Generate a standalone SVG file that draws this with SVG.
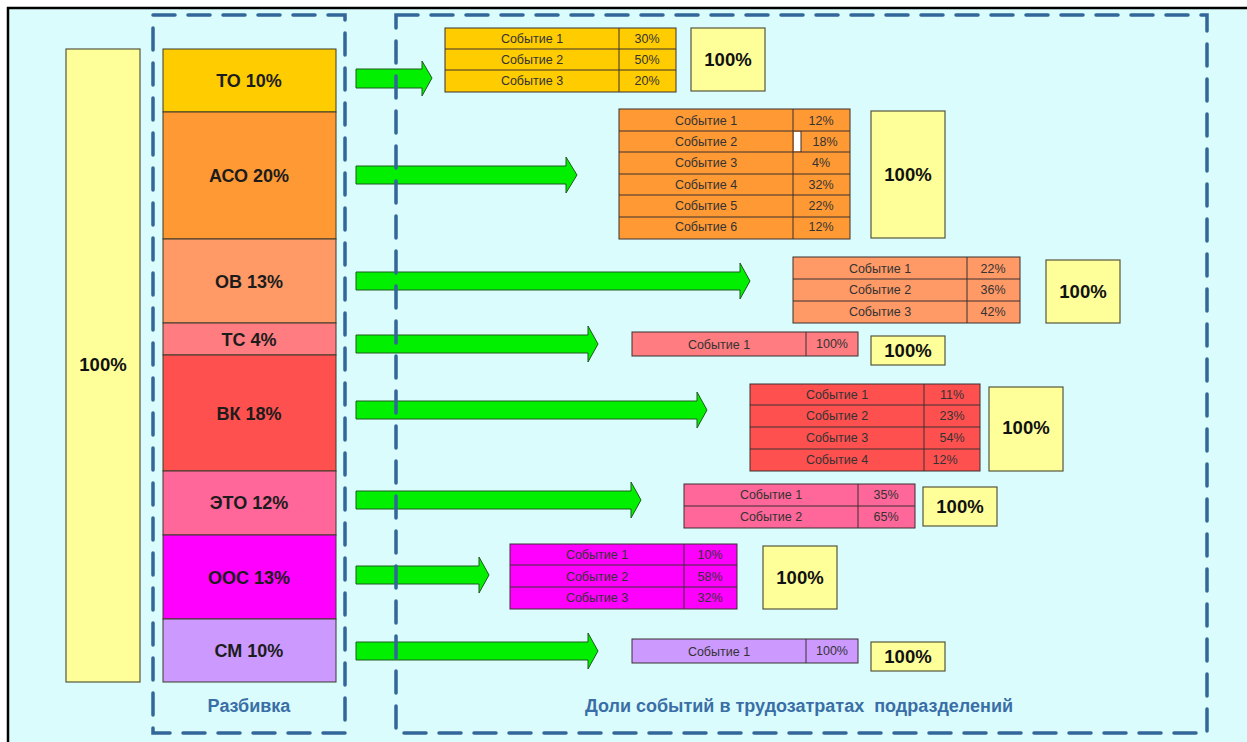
<svg xmlns="http://www.w3.org/2000/svg" width="1247" height="742" viewBox="0 0 1247 742">
  <style>
    .bg { fill: #dbfcfc; }
    .frame { fill: none; stroke: #336699; stroke-width: 3.5; stroke-dasharray: 22 13; stroke-linecap: round; }
    .seg { stroke: #3b3b2b; stroke-width: 1; }
    .total { fill: #ffff99; stroke: #55553f; stroke-width: 1.2; }
    .lbl { font-family: "Liberation Sans", Arial, sans-serif; font-weight: bold; font-size: 18px; fill: #1c1c1c; text-anchor: middle; }
    .big { font-family: "Liberation Sans", Arial, sans-serif; font-weight: bold; font-size: 18.5px; fill: #111; text-anchor: middle; }
    .cell { font-family: "Liberation Sans", Arial, sans-serif; font-size: 12.5px; fill: #333; text-anchor: middle; }
    .cap { font-family: "Liberation Sans", Arial, sans-serif; font-weight: bold; font-size: 18px; fill: #3a6ea6; text-anchor: middle; }
    .tbl { stroke: #3a3030; stroke-width: 1; }
    .arrow { fill: #00f000; stroke: #1f5a1f; stroke-width: 1; stroke-linejoin: miter; }
  </style>

  <!-- canvas -->
  <rect x="0" y="0" width="1247" height="742" fill="#ffffff"/>
  <rect class="bg" x="9" y="9" width="1238" height="733"/>
  <path d="M8,742 V8 H1247" fill="none" stroke="#000" stroke-width="2.5"/>

  <!-- overall total -->
  <g id="total">
    <rect class="total" x="66" y="49" width="74" height="633"/>
    <text class="big" x="103" y="371">100%</text>
  </g>

  <!-- breakdown stack -->
  <g id="stack">
    <g id="seg-to"><rect class="seg" x="163" y="49" width="173" height="63" fill="#ffcc00"/><text class="lbl" x="249" y="87">ТО 10%</text></g>
    <g id="seg-aso"><rect class="seg" x="163" y="112" width="173" height="127" fill="#ff9933"/><text class="lbl" x="249" y="182">АСО 20%</text></g>
    <g id="seg-ov"><rect class="seg" x="163" y="239" width="173" height="84" fill="#ff9966"/><text class="lbl" x="249" y="288">ОВ 13%</text></g>
    <g id="seg-ts"><rect class="seg" x="163" y="323" width="173" height="32" fill="#ff7c80"/><text class="lbl" x="249" y="346">ТС 4%</text></g>
    <g id="seg-vk"><rect class="seg" x="163" y="355" width="173" height="116" fill="#ff5050" stroke="#e0a050"/><text class="lbl" x="249" y="420">ВК 18%</text></g>
    <g id="seg-eto"><rect class="seg" x="163" y="471" width="173" height="64" fill="#ff6699"/><text class="lbl" x="249" y="509">ЭТО 12%</text></g>
    <g id="seg-oos"><rect class="seg" x="163" y="535" width="173" height="84" fill="#ff00ff"/><text class="lbl" x="249" y="584">ООС 13%</text></g>
    <g id="seg-sm"><rect class="seg" x="163" y="619" width="173" height="63" fill="#cc99ff"/><text class="lbl" x="249" y="657">СМ 10%</text></g>
  </g>

  <!-- block arrows -->
  <g id="connectors">
    <path class="arrow" d="M356,69 H422 V61 L432,78 L422,96 V88 H356 Z"/>
    <path class="arrow" d="M356,166 H566 V157 L577,175 L566,193 V184 H356 Z"/>
    <path class="arrow" d="M356,272 H740 V263 L750,281 L740,299 V290 H356 Z"/>
    <path class="arrow" d="M356,335 H588 V326 L598,344 L588,362 V353 H356 Z"/>
    <path class="arrow" d="M356,401 H697 V392 L707,410 L697,428 V419 H356 Z"/>
    <path class="arrow" d="M356,491 H631 V482 L641,500 L631,518 V509 H356 Z"/>
    <path class="arrow" d="M356,566 H479 V557 L489,575 L479,593 V584 H356 Z"/>
    <path class="arrow" d="M356,642 H588 V633 L598,651 L588,669 V660 H356 Z"/>
  </g>

  <!-- ТО events -->
  <g id="tbl-to">
    <rect class="tbl" x="445" y="28" width="231" height="64" fill="#ffcc00"/>
    <path class="tbl" d="M445,49 H676 M445,70 H676 M619,28 V92"/>
    <text class="cell" x="532" y="43">Событие 1</text><text class="cell" x="647" y="43">30%</text>
    <text class="cell" x="532" y="64">Событие 2</text><text class="cell" x="647" y="64">50%</text>
    <text class="cell" x="532" y="85">Событие 3</text><text class="cell" x="647" y="85">20%</text>
  </g>
  <g id="sum-to"><rect class="total" x="691" y="28" width="74" height="63"/><text class="big" x="728" y="66">100%</text></g>

  <!-- АСО events -->
  <g id="tbl-aso">
    <rect class="tbl" x="619" y="109" width="231" height="130" fill="#ff9933"/>
    <path class="tbl" d="M619,131 H850 M619,152 H850 M619,174 H850 M619,195 H850 M619,217 H850 M793,109 V239"/>
    <rect x="794" y="132" width="7" height="19" fill="#ffffff"/>
    <path class="tbl" d="M801,131 V152"/>
    <text class="cell" x="706" y="125">Событие 1</text><text class="cell" x="821" y="125">12%</text>
    <text class="cell" x="706" y="146">Событие 2</text><text class="cell" x="825" y="146">18%</text>
    <text class="cell" x="706" y="167">Событие 3</text><text class="cell" x="821" y="167">4%</text>
    <text class="cell" x="706" y="189">Событие 4</text><text class="cell" x="821" y="189">32%</text>
    <text class="cell" x="706" y="210">Событие 5</text><text class="cell" x="821" y="210">22%</text>
    <text class="cell" x="706" y="231">Событие 6</text><text class="cell" x="821" y="231">12%</text>
  </g>
  <g id="sum-aso"><rect class="total" x="871" y="111" width="74" height="127"/><text class="big" x="908" y="181">100%</text></g>

  <!-- ОВ events -->
  <g id="tbl-ov">
    <rect class="tbl" x="793" y="257" width="227" height="66" fill="#ff9966"/>
    <path class="tbl" d="M793,279 H1020 M793,301 H1020 M967,257 V323"/>
    <text class="cell" x="880" y="273">Событие 1</text><text class="cell" x="993" y="273">22%</text>
    <text class="cell" x="880" y="294">Событие 2</text><text class="cell" x="993" y="294">36%</text>
    <text class="cell" x="880" y="316">Событие 3</text><text class="cell" x="993" y="316">42%</text>
  </g>
  <g id="sum-ov"><rect class="total" x="1046" y="260" width="74" height="63"/><text class="big" x="1083" y="298">100%</text></g>

  <!-- ТС events -->
  <g id="tbl-ts">
    <rect class="tbl" x="632" y="332" width="226" height="24" fill="#ff7c80"/>
    <path class="tbl" d="M806,332 V356"/>
    <text class="cell" x="719" y="349">Событие 1</text><text class="cell" x="832" y="348">100%</text>
  </g>
  <g id="sum-ts"><rect class="total" x="871" y="336" width="74" height="29"/><text class="big" x="908" y="357">100%</text></g>

  <!-- ВК events -->
  <g id="tbl-vk">
    <rect class="tbl" x="750" y="384" width="230" height="87" fill="#ff5050"/>
    <path class="tbl" d="M750,405 H980 M750,427 H980 M750,449 H980 M924,384 V471"/>
    <text class="cell" x="837" y="399">Событие 1</text><text class="cell" x="952" y="399">11%</text>
    <text class="cell" x="837" y="420">Событие 2</text><text class="cell" x="952" y="420">23%</text>
    <text class="cell" x="837" y="442">Событие 3</text><text class="cell" x="952" y="442">54%</text>
    <text class="cell" x="837" y="464">Событие 4</text><text class="cell" x="945" y="464">12%</text>
  </g>
  <g id="sum-vk"><rect class="total" x="989" y="387" width="74" height="84"/><text class="big" x="1026" y="434">100%</text></g>

  <!-- ЭТО events -->
  <g id="tbl-eto">
    <rect class="tbl" x="684" y="484" width="231" height="44" fill="#ff6699"/>
    <path class="tbl" d="M684,506 H915 M858,484 V528"/>
    <text class="cell" x="771" y="499">Событие 1</text><text class="cell" x="886" y="499">35%</text>
    <text class="cell" x="771" y="521">Событие 2</text><text class="cell" x="886" y="521">65%</text>
  </g>
  <g id="sum-eto"><rect class="total" x="923" y="487" width="74" height="39"/><text class="big" x="960" y="513">100%</text></g>

  <!-- ООС events -->
  <g id="tbl-oos">
    <rect class="tbl" x="510" y="544" width="227" height="65" fill="#ff00ff"/>
    <path class="tbl" d="M510,565 H737 M510,587 H737 M684,544 V609"/>
    <text class="cell" x="597" y="559">Событие 1</text><text class="cell" x="710" y="559">10%</text>
    <text class="cell" x="597" y="581">Событие 2</text><text class="cell" x="710" y="581">58%</text>
    <text class="cell" x="597" y="602">Событие 3</text><text class="cell" x="710" y="602">32%</text>
  </g>
  <g id="sum-oos"><rect class="total" x="763" y="546" width="74" height="63"/><text class="big" x="800" y="584">100%</text></g>

  <!-- СМ events -->
  <g id="tbl-sm">
    <rect class="tbl" x="632" y="639" width="226" height="24" fill="#cc99ff"/>
    <path class="tbl" d="M806,639 V663"/>
    <text class="cell" x="719" y="656">Событие 1</text><text class="cell" x="832" y="655">100%</text>
  </g>
  <g id="sum-sm"><rect class="total" x="871" y="642" width="74" height="29"/><text class="big" x="908" y="663">100%</text></g>

  <!-- dashed groupings -->
  <g id="frame-split">
    <rect class="frame" x="153" y="15" width="192" height="718"/>
    <text class="cap" x="249" y="712">Разбивка</text>
  </g>
  <g id="frame-shares">
    <rect class="frame" x="396" y="15" width="811" height="718"/>
    <text class="cap" x="799" y="712" xml:space="preserve">Доли событий в трудозатратах  подразделений</text>
  </g>
</svg>
